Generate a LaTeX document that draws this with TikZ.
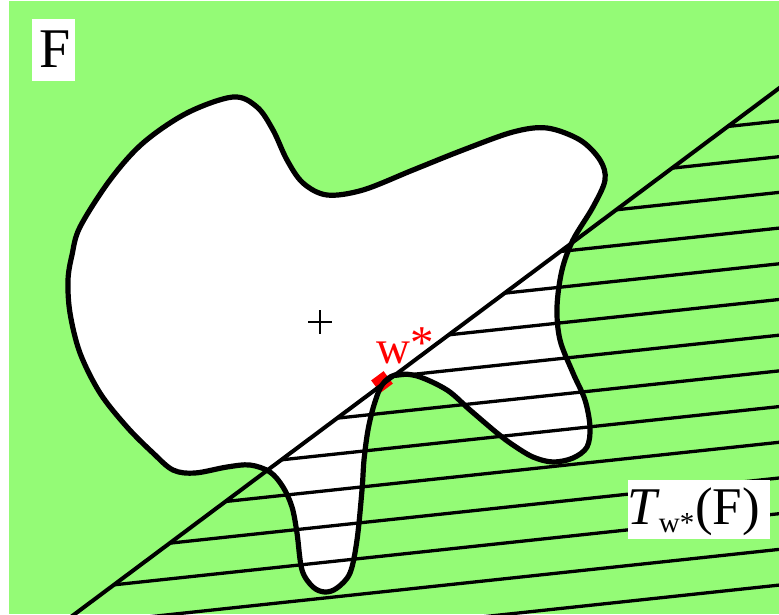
\documentclass[tikz,border=0pt]{standalone}
\usepackage{fontspec}
\setmainfont{Liberation Serif}
\definecolor{fgreen}{RGB}{148,251,118}
\begin{document}
\begin{tikzpicture}[x=1pt,y=-1pt,
  outline/.style={line width=5.2pt, line join=round},
  tanline/.style={line width=4pt},
  hatchline/.style={line width=3.3pt},
  labelbox/.style={fill=white, inner sep=0pt, anchor=north west}]
\useasboundingbox (0,0) rectangle (779,614);
\fill[fgreen] (9,1) rectangle (779,614);
% blob
\def\blobpath{plot[smooth cycle, tension=0.55] coordinates {
 (233,97) (257,107) (273,130) (287,160) (303,183) (327,195) (363,190) (413,170)
 (463,150) (513,132) (547,128) (580,140) (600,160) (605,180) (593,207) (573,240)
 (562,270) (557,307) (560,340) (573,373) (585,400) (590,427) (587,447) (573,458)
 (553,462) (533,457) (513,445) (497,433) (470,410) (447,390) (417,376) (395,375)
 (382,385) (374,405) (368,430) (364,460) (362,490) (357,540) (350,573) (337,588)
 (325,592) (313,587) (302,570) (297,533) (292,507) (283,487) (270,472) (250,465)
 (227,467) (195,473) (173,470) (153,453) (127,427) (100,393) (80,353) (70,313)
 (68,280) (72,255) (80,227) (110,180) (143,143) (187,113)}}
\fill[white] \blobpath;
% marker
\node[fill=red, minimum size=15.5pt, inner sep=0pt, rotate=36.6] (wmark) at (382,382) {};
\begin{scope}
\clip (9,1) rectangle (779,614);
\coordinate (t1) at (40,640);
\coordinate (t2) at (800,72.6);
\foreach \k in {0,...,13}{
  \pgfmathsetmacro{\yr}{121+35.7*\k-0.107*21}
  \pgfmathsetmacro{\yl}{121+35.7*\k+0.107*779}
  \coordinate (hr) at (800,\yr);
  \coordinate (hl) at (0,\yl);
  \draw[hatchline] (intersection of t1--t2 and hl--hr) -- (hr);
}
\draw[tanline] (t1) -- (t2);
\end{scope}
\draw[outline] \blobpath;
% plus
\draw[line width=2pt] (308,322) -- (332,322) (320,310) -- (320,334);
% labels
\node[labelbox, minimum width=43.3pt, minimum height=62pt] (fbox) at (31.7,19) {};
\node[anchor=base west, inner sep=0pt] (flab) at (39.3,67) {\fontsize{56}{60}\selectfont F};
\node[labelbox, minimum width=141.6pt, minimum height=58.3pt] (tbox) at (627.7,480) {};
\node[anchor=base west, inner sep=0pt] (tlab) at (627,524) {\fontsize{53}{56}\selectfont\textit{T}\kern-1pt\raisebox{-8.5pt}{\fontsize{29}{30}\selectfont w*}\kern1pt(F)};
\node[anchor=base west, inner sep=0pt, text=red] (wlab) at (376,363) {\fontsize{47}{48}\selectfont w\raisebox{5pt}{*}};
\end{tikzpicture}
\end{document}
